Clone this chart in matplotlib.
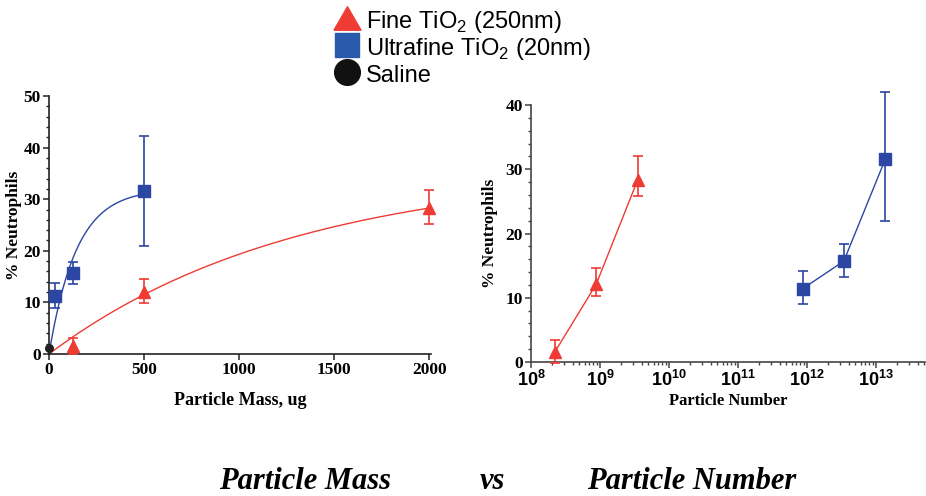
import numpy as np
import matplotlib
matplotlib.use('Agg')
import matplotlib.pyplot as plt
from matplotlib.lines import Line2D
from matplotlib.ticker import MultipleLocator, LogLocator, FuncFormatter, NullFormatter

plt.rcParams['mathtext.fontset'] = 'custom'
plt.rcParams['mathtext.rm'] = 'Liberation Sans'
plt.rcParams['mathtext.bf'] = 'Liberation Sans:bold'

RED = '#ee3b33'
BLUE = '#2b46a3'

# Dosis als Masse (ug)
mass_fine = [125, 500, 2000]
neut_fine = [1.5, 12.0, 28.3]
err_fine_lo = [1.5, 2.2, 3.2]
err_fine_hi = [1.6, 2.5, 3.4]

mass_ultra = [31.25, 125, 500]
neut_ultra = [11.3, 15.7, 31.5]
err_ultra_lo = [2.3, 2.2, 10.5]
err_ultra_hi = [2.4, 2.2, 10.7]

mass_saline = [0]
neut_saline = [1.2]
err_saline = [0.4]

# Fit-Parameter (Y = Ymax * (1 - exp(-k x)))
fit_fine = (36.0, 0.00077)
fit_ultra = (32.0, 0.0069)

# Dosis als Partikelzahl
num_fine = [2.2e8, 8.8e8, 3.5e9]
num_ultra = [8.6e11, 3.4e12, 1.36e13]
neut_fine_n = [1.5, 12.1, 28.3]
err_fine_n_lo = [1.7, 1.9, 2.5]
err_fine_n_hi = [1.9, 2.5, 3.7]
neut_ultra_n = [11.4, 15.7, 31.6]
err_ultra_n_lo = [2.4, 2.4, 9.6]
err_ultra_n_hi = [2.7, 2.6, 10.4]

legend_labels = ['Fine TiO$_2$ (250nm)', 'Ultrafine TiO$_2$ (20nm)', 'Saline']

fig = plt.figure(figsize=(9.26, 4.96), dpi=100)
serif = 'Liberation Serif'
sans = 'Liberation Sans'

def style_axes(ax, spine_color):
    ax.spines['top'].set_visible(False)
    ax.spines['right'].set_visible(False)
    for s in ('left', 'bottom'):
        ax.spines[s].set_linewidth(1.2)
        ax.spines[s].set_color(spine_color)
    ax.tick_params(which='major', direction='out', length=4, width=1.1, pad=2, color=spine_color)
    ax.tick_params(which='minor', direction='out', length=2.5, width=1.0, color=spine_color)
    ax.set_ylabel('% Neutrophils', fontfamily=serif, fontweight='bold', fontsize=12.5)

# --- Masse ---
ax1 = fig.add_axes([49 / 926, 1 - 354 / 496, 382 / 926, 258 / 496])
xf = np.linspace(0, 2000, 200)
ax1.plot(xf, fit_fine[0] * (1 - np.exp(-fit_fine[1] * xf)), color=RED, lw=1)
xu = np.linspace(0, 500, 200)
ax1.plot(xu, fit_ultra[0] * (1 - np.exp(-fit_ultra[1] * xu)), color=BLUE, lw=1)
ax1.errorbar(mass_fine, neut_fine, yerr=[err_fine_lo, err_fine_hi], fmt='^', color=RED,
             ms=9, capsize=3.5, elinewidth=1.2, capthick=1.2, clip_on=False, zorder=3)
ax1.errorbar(mass_ultra, neut_ultra, yerr=[err_ultra_lo, err_ultra_hi], fmt='s', color=BLUE,
             ms=8.5, capsize=3.5, elinewidth=1.2, capthick=1.2, clip_on=False, zorder=3)
ax1.errorbar(mass_saline, neut_saline, yerr=[err_saline, err_saline], fmt='o', color='#222222',
             ms=5.5, capsize=2, elinewidth=1, clip_on=False, zorder=4)
ax1.set_xlim(0, 2010)
ax1.set_ylim(0, 50)
ax1.set_xticks([0, 500, 1000, 1500, 2000])
ax1.yaxis.set_major_locator(MultipleLocator(10))
ax1.yaxis.set_minor_locator(MultipleLocator(2))
style_axes(ax1, '#222222')
ax1.yaxis.set_label_coords(-0.071, 0.5)
ax1.set_xlabel('Particle Mass, ug', fontfamily=serif, fontweight='bold', fontsize=13, labelpad=10)
for lab in ax1.get_xticklabels() + ax1.get_yticklabels():
    lab.set_fontfamily(serif)
    lab.set_fontweight('bold')
    lab.set_fontsize(12.5)

# --- Partikelzahl ---
ax2 = fig.add_axes([531 / 926, 1 - 362 / 496, 394 / 926, 257 / 496])
ax2.errorbar(num_fine, neut_fine_n, yerr=[err_fine_n_lo, err_fine_n_hi], fmt='^-', color=RED,
             ms=9, lw=1, capsize=3.5, elinewidth=1.2, capthick=1.2, clip_on=False, zorder=3)
ax2.errorbar(num_ultra, neut_ultra_n, yerr=[err_ultra_n_lo, err_ultra_n_hi], fmt='s-', color=BLUE,
             ms=8.5, lw=1, capsize=3.5, elinewidth=1.2, capthick=1.2, clip_on=False, zorder=3)
ax2.set_xscale('log')
ax2.set_xlim(1e8, 5.1e13)
ax2.set_ylim(0, 40)
ax2.xaxis.set_major_locator(LogLocator(base=10, numticks=20))
ax2.xaxis.set_minor_locator(LogLocator(base=10, subs=np.arange(2, 10), numticks=50))
ax2.xaxis.set_minor_formatter(NullFormatter())
ax2.xaxis.set_major_formatter(FuncFormatter(lambda v, p: r'$\mathbf{10^{%d}}$' % round(np.log10(v))))
ax2.yaxis.set_major_locator(MultipleLocator(10))
ax2.yaxis.set_minor_locator(MultipleLocator(2))
style_axes(ax2, '#444444')
ax2.yaxis.set_label_coords(-0.084, 0.5)
ax2.set_xlabel('Particle Number', fontfamily=serif, fontweight='bold', fontsize=12, labelpad=2)
for lab in ax2.get_xticklabels():
    lab.set_fontsize(13)
for lab in ax2.get_yticklabels():
    lab.set_fontfamily(serif)
    lab.set_fontweight('bold')
    lab.set_fontsize(12.5)

# Legende oben (Symbole und Text einzeln gesetzt)
tri = [(-1, -0.866), (1, -0.866), (0, 0.866), (-1, -0.866)]
legend_markers = [(tri, RED, 19.5), ('s', '#2a5aab', 17), ('o', '#111111', 18.5)]
marker_rows = [18, 45, 72]
text_rows = [28, 55, 82]
for (mk, col, ms), ym, yt, lab in zip(legend_markers, marker_rows, text_rows, legend_labels):
    fig.add_artist(Line2D([347 / 926], [1 - ym / 496], transform=fig.transFigure,
                          marker=mk, color=col, ms=ms, ls='none'))
    fig.text(366 / 926, 1 - yt / 496, lab, fontfamily=sans, fontsize=17, va='baseline')

# Untertitel
big = dict(fontfamily=serif, fontweight='bold', fontstyle='italic', fontsize=22,
           ha='center', va='baseline')
fig.text(305 / 926, 1 - 489 / 496, 'Particle Mass', **big)
fig.text(492 / 926, 1 - 489 / 496, 'vs', **big)
fig.text(692 / 926, 1 - 489 / 496, 'Particle Number', **big)

fig.savefig('out.png', dpi=100)
